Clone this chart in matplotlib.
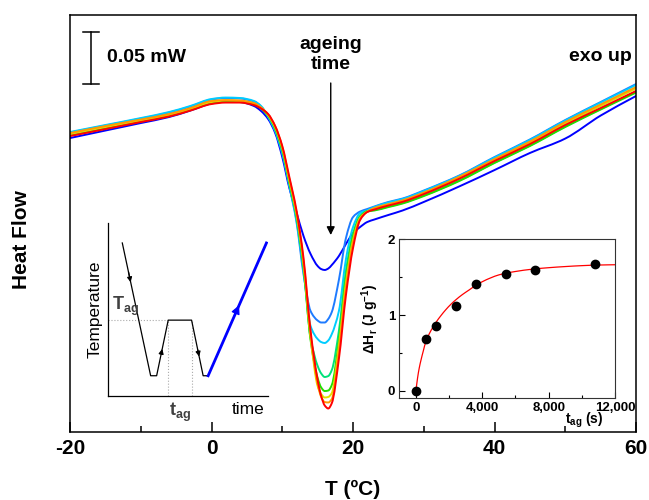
import numpy as np
import matplotlib
matplotlib.use("Agg")
import matplotlib.pyplot as plt
from matplotlib.path import Path
from matplotlib.patches import PathPatch
from matplotlib.ticker import MultipleLocator, FuncFormatter

plt.rcParams.update({
    "font.family": ["Liberation Sans", "DejaVu Sans"],
    "axes.unicode_minus": False,
    "mathtext.fontset": "custom",
    "mathtext.rm": "Liberation Sans",
    "mathtext.bf": "Liberation Sans:bold",
    "mathtext.it": "Liberation Sans:italic",
    "mathtext.default": "bf",
})

# ---------- DSC scans (heat flow in uW, arbitrary zero) ----------
temp = [-20, -15, -10, -6, -3, 0, 2, 4, 6, 7, 8, 9, 10, 11, 12, 13, 14, 15, 15.5, 16,
        16.5, 17, 18, 19, 20, 21, 22, 23, 25, 27, 30, 35, 40, 45, 50, 55, 60]

hf_blue = [282.7, 289.9, 297.1, 302.9, 309.1, 315.9, 317.8, 317.3, 313.5, 308.7, 301.0,
           287.5, 264.4, 234.6, 211.5, 188.5, 171.2, 159.6, 156.7, 155.8, 157.2, 160.6,
           169.2, 180.8, 191.3, 197.1, 201.9, 204.3, 208.7, 213.0, 221.2, 236.1, 251.9,
           268.3, 282.2, 304.3, 323.1]
hf_dodger = [288.0, 294.7, 301.4, 307.2, 313.0, 319.7, 321.2, 320.7, 317.8, 313.0, 302.9,
             288.9, 267.3, 236.1, 202.4, 151.9, 116.3, 107.2, 105.3, 105.3, 108.7, 115.4,
             146.2, 186.5, 206.7, 212.0, 214.4, 216.8, 221.2, 224.5, 232.2, 246.6, 264.4,
             281.3, 300.0, 317.3, 334.6]
hf_cyan = [288.5, 295.2, 301.9, 307.7, 313.5, 320.2, 321.6, 321.2, 318.3, 313.5, 303.4,
           289.9, 268.8, 237.5, 204.3, 154.8, 101.9, 89.4, 86.5, 85.6, 88.0, 94.2,
           116.3, 166.3, 197.1, 210.6, 213.2, 216.3, 220.7, 224.0, 231.7, 246.2, 263.9,
           280.8, 299.5, 316.8, 333.7]
hf_spring = [285.6, 292.3, 299.0, 304.3, 310.1, 316.8, 318.3, 317.8, 315.4, 311.1, 303.8,
             290.9, 270.2, 238.9, 206.3, 157.2, 90.4, 63.5, 56.3, 52.9, 53.8, 59.6,
             97.1, 154.8, 190.8, 207.9, 212.5, 213.5, 216.8, 220.2, 227.4, 241.8, 259.1,
             275.5, 293.8, 310.6, 327.4]
hf_green = [285.1, 291.8, 298.6, 303.8, 309.6, 316.3, 317.8, 317.3, 314.9, 311.1, 304.3,
            291.8, 271.6, 240.4, 208.2, 159.6, 88.5, 51.9, 42.8, 39.4, 39.9, 45.2,
            87.5, 147.1, 187.5, 206.5, 212.1, 213.0, 216.3, 219.7, 226.9, 241.3, 258.7,
            275.0, 293.3, 310.1, 326.4]
hf_yellow = [286.5, 293.3, 299.5, 304.8, 310.6, 317.3, 318.8, 318.3, 315.9, 312.0, 304.8,
             292.8, 273.1, 241.8, 210.1, 162.0, 91.3, 44.2, 36.5, 33.2, 33.7, 37.5,
             82.7, 143.3, 184.6, 205.9, 211.9, 214.9, 218.8, 222.1, 229.8, 244.7, 261.5,
             278.4, 296.6, 313.5, 330.3]
hf_orange = [287.5, 294.2, 300.5, 305.8, 311.5, 318.3, 319.2, 318.8, 316.3, 312.0, 305.3,
             293.8, 274.0, 243.3, 211.5, 164.4, 94.2, 46.2, 33.7, 28.8, 28.4, 31.7,
             77.9, 139.4, 182.2, 205.2, 211.7, 215.4, 219.2, 222.8, 230.3, 245.4, 262.5,
             279.3, 298.1, 314.9, 331.7]
hf_red = [284.6, 291.3, 298.1, 303.4, 309.1, 315.4, 316.8, 316.8, 314.4, 311.1, 305.8,
          294.2, 275.0, 245.2, 213.5, 167.3, 97.1, 50.0, 34.6, 25.5, 22.6, 27.7,
          70.2, 131.7, 176.9, 203.8, 211.5, 213.9, 217.8, 221.3, 228.8, 243.5, 260.6,
          276.9, 295.2, 311.5, 327.9]

scans = [hf_blue, hf_dodger, hf_cyan, hf_spring, hf_green, hf_yellow, hf_orange, hf_red]
scan_colors = ["#0000ff", "#1e7bff", "#00ccff", "#00e27a", "#22dd00", "#e0e000",
               "#ff9900", "#ff0000"]

scale_uW = 50  # 0.05 mW

# ---------- thermal history sketch ----------
sched_time = [14, 42.4, 48.4, 60, 83.4, 95, 100]
sched_temp = [153, 20, 20, 75.7, 75.7, 20, 20]
heat_time = [100, 158.4]
heat_temp = [20, 153]

# ---------- enthalpy recovery vs ageing time ----------
t_ag = [0, 600, 1200, 2400, 3600, 5400, 7200, 10800]
dH = [0, 0.68, 0.85, 1.12, 1.41, 1.54, 1.59, 1.67]
fit_t = [0, 100, 200, 300, 450, 600, 800, 1000, 1200, 1500, 1800, 2100, 2400, 2800,
         3200, 3600, 4000, 4500, 5000, 5500, 6000, 7000, 8000, 9000, 10000, 11000, 12000]
fit_dH = [0, 0.17, 0.30, 0.40, 0.53, 0.65, 0.75, 0.83, 0.90, 0.99, 1.07, 1.14, 1.20,
          1.27, 1.33, 1.39, 1.44, 1.49, 1.53, 1.555, 1.575, 1.605, 1.625, 1.64, 1.652,
          1.66, 1.664]


def smooth_path(x, y):
    # cubic Bezier through every point, monotone tangents so nothing overshoots
    x = np.asarray(x, float)
    y = np.asarray(y, float)
    h = np.diff(x)
    d = np.diff(y) / h
    m = np.zeros_like(y)
    m[0], m[-1] = d[0], d[-1]
    for i in range(1, len(x) - 1):
        if d[i - 1] * d[i] > 0:
            w1 = 2 * h[i] + h[i - 1]
            w2 = h[i] + 2 * h[i - 1]
            m[i] = (w1 + w2) / (w1 / d[i - 1] + w2 / d[i])
    verts = [(x[0], y[0])]
    codes = [Path.MOVETO]
    for i in range(len(h)):
        verts += [(x[i] + h[i] / 3, y[i] + m[i] * h[i] / 3),
                  (x[i + 1] - h[i] / 3, y[i + 1] - m[i + 1] * h[i] / 3),
                  (x[i + 1], y[i + 1])]
        codes += [Path.CURVE4] * 3
    return Path(verts, codes)


fig = plt.figure(figsize=(6.49, 5.0), dpi=100)
ax = fig.add_axes([0.1079, 0.136, 0.8721, 0.834])

for hf, c in zip(scans, scan_colors):
    ax.add_patch(PathPatch(smooth_path(temp, hf), fill=False, edgecolor=c, lw=1.4,
                           capstyle="round", joinstyle="round"))

ax.set_xlim(-20, 60)
ax.set_ylim(0, 401)
ax.set_yticks([])
ax.xaxis.set_major_locator(MultipleLocator(20))
ax.xaxis.set_minor_locator(MultipleLocator(10))
ax.tick_params(axis="x", which="major", direction="in", length=7, width=1.1,
               labelsize=15, pad=5)
ax.tick_params(axis="x", which="minor", direction="in", length=4.5, width=1.1)
for lbl in ax.get_xticklabels():
    lbl.set_fontweight("bold")
for sp in ax.spines.values():
    sp.set_linewidth(1.1)

fig.text(353 / 649, 1 - 489 / 500, "T (ºC)", ha="center", va="center",
         fontsize=15, fontweight="bold")
fig.text(22 / 649, 1 - 240 / 500, "Heat Flow", ha="center", va="center",
         rotation=90, fontsize=15, fontweight="bold")

# scale bar
bar_x, bar_lo = -17.07, 334.6
ax.plot([bar_x, bar_x], [bar_lo, bar_lo + scale_uW], color="k", lw=1.1)
ax.plot([-18.2, -15.9], [bar_lo, bar_lo], color="k", lw=1.1)
ax.plot([-18.2, -15.9], [bar_lo + scale_uW, bar_lo + scale_uW], color="k", lw=1.1)
ax.text(-14.8, 360.6, "0.05 mW", ha="left", va="center", fontsize=14, fontweight="bold")

ax.annotate("", xy=(16.85, 189.4), xytext=(16.85, 335.6),
            arrowprops=dict(arrowstyle="-|>", color="k", lw=1, mutation_scale=12,
                            shrinkA=0, shrinkB=0))
ax.text(16.85, 363.0, "ageing\ntime", ha="center", va="center", fontsize=14,
        fontweight="bold", linespacing=1.3)
ax.text(59.45, 361.0, "exo up", ha="right", va="center", fontsize=14, fontweight="bold")

# left inset: temperature programme
axl = fig.add_axes([0.1669, 0.2086, 0.2461, 0.3454], facecolor="none")
axl.set_xlim(0, 160)
axl.set_ylim(0, 173)
axl.spines["top"].set_visible(False)
axl.spines["right"].set_visible(False)
for sp in axl.spines.values():
    sp.set_linewidth(0.9)
axl.set_xticks([])
axl.set_yticks([])

guide = dict(ls=":", color="#aaaaaa", lw=0.8)
axl.plot([0, sched_time[3]], [sched_temp[3], sched_temp[3]], **guide)
axl.plot([sched_time[3], sched_time[3]], [0, sched_temp[3]], **guide)
axl.plot([sched_time[4], sched_time[4]], [0, sched_temp[4]], **guide)

axl.plot(sched_time, sched_temp, color="k", lw=0.9)
axl.plot(heat_time, heat_temp, color="#0000ff", lw=2)


def head(a, x0, y0, x1, y1, color, size):
    a.annotate("", xy=(x1, y1), xytext=(x0, y0),
               arrowprops=dict(arrowstyle="-|>", color=color, lw=0.9,
                               mutation_scale=size, shrinkA=0, shrinkB=0))


head(axl, 20.2, 124.0, 22.4, 113.7, "k", 7)
head(axl, 52.9, 41.6, 54.0, 46.9, "k", 7)
head(axl, 89.6, 45.9, 91.0, 39.2, "k", 7)
head(axl, 124.0, 74.7, 131.0, 90.6, "#0000ff", 13)

axl.set_ylabel("Temperature", fontsize=12.5, labelpad=4)
axl.text(140, -14, "time", ha="center", va="center", fontsize=12.5, clip_on=False)
axl.text(17, 89, r"T$_{ag}$", ha="center", va="center", fontsize=13,
         fontweight="bold", color="#404040")
axl.text(72, -17, r"t$_{ag}$", ha="center", va="center", fontsize=13,
         fontweight="bold", color="#404040", clip_on=False)

# right inset: recovered enthalpy
axr = fig.add_axes([0.6153, 0.2034, 0.3324, 0.318], facecolor="none")
axr.add_patch(PathPatch(smooth_path(fit_t, fit_dH), fill=False, edgecolor="#ff0000",
                        lw=0.9))
axr.plot(t_ag, dH, "o", color="k", ms=6)
axr.set_xlim(-1000, 12000)
axr.set_ylim(-0.1, 2)
axr.set_xticks([0, 4000, 8000, 12000])
axr.xaxis.set_minor_locator(MultipleLocator(2000))
axr.set_yticks([0, 1, 2])
axr.yaxis.set_minor_locator(MultipleLocator(0.5))
axr.xaxis.set_major_formatter(FuncFormatter(lambda v, p: f"{v:,.0f}"))
axr.tick_params(which="major", direction="in", length=4, width=0.8, labelsize=9.5, pad=3)
axr.tick_params(which="minor", direction="in", length=2.5, width=0.8)
for lbl in axr.get_xticklabels() + axr.get_yticklabels():
    lbl.set_fontweight("bold")
for sp in axr.spines.values():
    sp.set_linewidth(0.8)
    sp.set_color("#333333")
axr.set_ylabel(r"ΔH$_r$ (J g$^{-1}$)", fontsize=10, fontweight="bold", labelpad=5)
axr.text(10150, -0.39, r"t$_{ag}$ (s)", ha="center", va="center", fontsize=10,
         fontweight="bold", clip_on=False)

fig.savefig("out.png", dpi=100)
